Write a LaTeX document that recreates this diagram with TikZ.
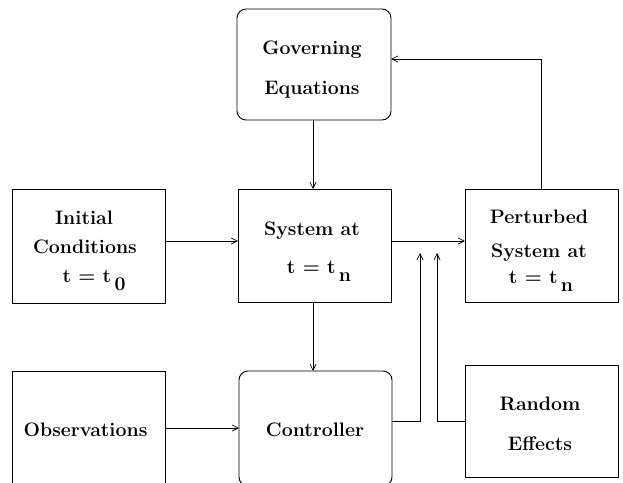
\documentclass[tikz,border=0pt]{standalone}
\usetikzlibrary{arrows.meta}
\newcommand{\sbx}[1]{\,\raisebox{-8pt}{#1}}
\begin{document}
\begin{tikzpicture}[x=1pt,y=-1pt,
  box/.style={draw,line width=0.9pt},
  rbox/.style={draw,line width=0.9pt,rounded corners=9pt},
  lbl/.style={font=\fontsize{19.5}{22}\selectfont\bfseries,inner sep=0pt,anchor=base},
  conn/.style={line width=0.7pt,-{Straight Barb[length=6pt,width=6pt]}}]
\useasboundingbox (0,0) rectangle (623,482);
\begin{scope}
\clip (0,0) rectangle (623,482);
% boxes
\draw[rbox] (237,9) rectangle (391,120);
\draw[box] (12,189) rectangle (165,303);
\draw[box] (238,189) rectangle (391,302);
\draw[box] (465,189) rectangle (618,302);
\draw[box] (12,371) rectangle (165,495);
\draw[rbox] (239,371) rectangle (392,486);
\draw[box] (465,365) rectangle (618,477);
\end{scope}
% named anchors
\coordinate (govS) at (313,120);
\coordinate (govE) at (391,59);
\coordinate (sysN) at (313,189);
\coordinate (sysW) at (238,241);
\coordinate (sysE) at (391,241);
\coordinate (sysS) at (313,302);
\coordinate (iniE) at (165,241);
\coordinate (perW) at (465,241);
\coordinate (perN) at (541,189);
\coordinate (obsE) at (165,428);
\coordinate (conW) at (239,428);
\coordinate (conN) at (313,371);
\coordinate (conE) at (392,421);
\coordinate (ranW) at (465,421);
\coordinate (tipA) at (420,253);
\coordinate (tipB) at (437,253);
% labels
\node[lbl] (gov1) at (312,54) {Governing};
\node[lbl] (gov2) at (312,94) {Equations};
\node[lbl] (ini1) at (84,224) {Initial};
\node[lbl] (ini2) at (85,253) {Conditions};
\node[lbl] (ini3) at (94,282) {t = t\sbx{0}};
\node[lbl] (sys1) at (312,235) {System at};
\node[lbl] (sys2) at (319,273) {t = t\sbx{n}};
\node[lbl] (per1) at (539,223) {Perturbed};
\node[lbl] (per2) at (539,257) {System at};
\node[lbl] (per3) at (541,283) {t = t\sbx{n}};
\node[lbl] (obs) at (85.5,436) {Observations};
\node[lbl] (con) at (315,436) {Controller};
\node[lbl] (ran1) at (540,410) {Random};
\node[lbl] (ran2) at (540,450) {Effects};
% connectors
\draw[conn] (govS) -- (sysN);
\draw[conn] (iniE) -- (sysW);
\draw[conn] (sysE) -- (perW);
\draw[conn] (sysS) -- (conN);
\draw[conn] (obsE) -- (conW);
\draw[conn] (conE) -| (tipA);
\draw[conn] (ranW) -| (tipB);
\draw[conn] (perN) |- (govE);
\end{tikzpicture}
\end{document}
